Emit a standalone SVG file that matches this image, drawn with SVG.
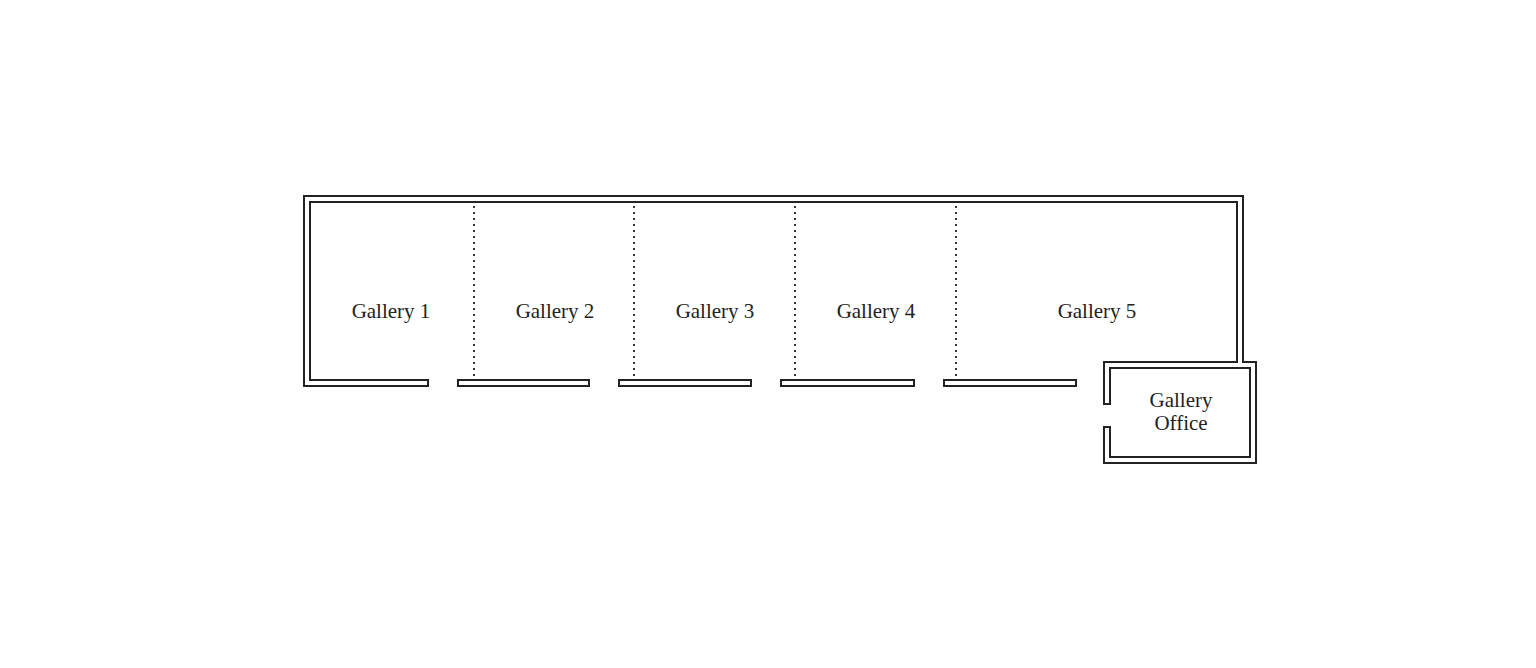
<svg xmlns="http://www.w3.org/2000/svg" width="1536" height="668" viewBox="0 0 1536 668">
<style>
.w{fill:none;stroke:#222;stroke-width:8;stroke-linejoin:miter}
.i{fill:none;stroke:#fff;stroke-width:4;stroke-linejoin:miter}
.d{stroke:#333;stroke-width:2;stroke-dasharray:2 4}
text{font-family:"Liberation Serif",serif;font-size:21px;fill:#222;text-anchor:middle}
</style>
<rect width="1536" height="668" fill="#fff"/>
<g id="walls">
<path class="w" d="M429,383 H307 V199 H1240 V365"/>
<path class="w" d="M1107,405 V365 H1253 V460 H1107 V426"/>
<path class="w" d="M457,383 H590 M618,383 H752 M780,383 H915 M943,383 H1077"/>
<path class="i" d="M427,383 H307 V199 H1240 V366"/>
<path class="i" d="M1107,403 V365 H1253 V460 H1107 V428"/>
<path class="i" d="M459,383 H588 M620,383 H750 M782,383 H913 M945,383 H1075"/>
</g>
<g id="dividers">
<line class="d" x1="474" y1="206" x2="474" y2="378"/>
<line class="d" x1="634" y1="206" x2="634" y2="378"/>
<line class="d" x1="795" y1="206" x2="795" y2="378"/>
<line class="d" x1="956" y1="206" x2="956" y2="378"/>
</g>
<g id="g1"><text x="391" y="318">Gallery 1</text></g>
<g id="g2"><text x="555" y="318">Gallery 2</text></g>
<g id="g3"><text x="715" y="318">Gallery 3</text></g>
<g id="g4"><text x="876" y="318">Gallery 4</text></g>
<g id="g5"><text x="1097" y="318">Gallery 5</text></g>
<g id="office"><text x="1181" y="407">Gallery</text><text x="1181" y="430">Office</text></g>
</svg>
